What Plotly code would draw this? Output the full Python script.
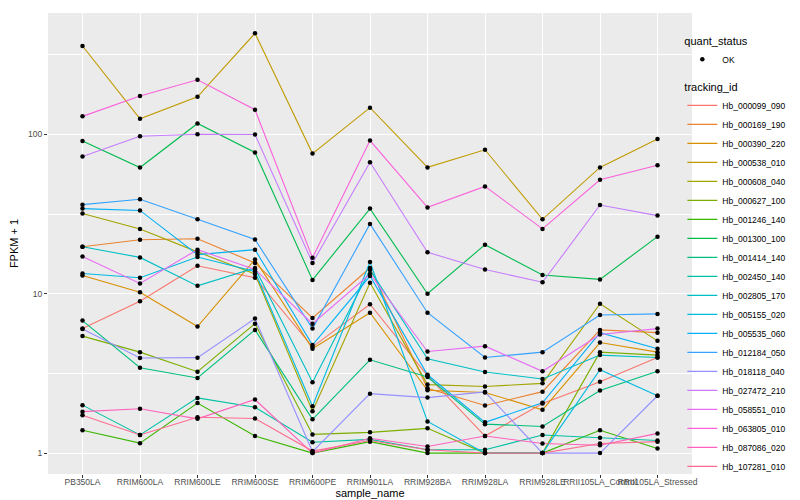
import plotly.graph_objects as go

samples = ["PB350LA", "RRIM600LA", "RRIM600LE", "RRIM600SE", "RRIM600PE", "RRIM901LA",
           "RRIM928BA", "RRIM928LA", "RRIM928LE", "RRII105LA_Control", "RRII105LA_Stressed"]

tracking_ids = ["Hb_000099_090", "Hb_000169_190", "Hb_000390_220", "Hb_000538_010",
                "Hb_000608_040", "Hb_000627_100", "Hb_001246_140", "Hb_001300_100",
                "Hb_001414_140", "Hb_002450_140", "Hb_002805_170", "Hb_005155_020",
                "Hb_005535_060", "Hb_012184_050", "Hb_018118_040", "Hb_027472_210",
                "Hb_058551_010", "Hb_063805_010", "Hb_087086_020", "Hb_107281_010"]

colors = ["#F8766D", "#EA8331", "#D89000", "#C09B00", "#A3A500", "#7CAE00", "#39B600",
          "#00BB4E", "#00BF7D", "#00C1A3", "#00BFC4", "#00BAE0", "#00B0F6", "#35A2FF",
          "#9590FF", "#C77CFF", "#E76BF3", "#FA62DB", "#FF62BC", "#FF6C91"]

# FPKM + 1 per tracking id, in sample order
hb_000099_090 = [6.04, 8.96, 14.96, 12.6, 4.64, 8.59, 3.06, 1.28, 2.05, 2.8, 3.98]
hb_000169_190 = [19.7, 21.8, 22.1, 15.6, 7.05, 14.5, 2.55, 1.99, 2.43, 5.93, 5.7]
hb_000390_220 = [13.0, 10.2, 6.22, 16.4, 4.52, 7.6, 2.48, 2.4, 1.87, 4.94, 4.3]
hb_000538_010 = [358, 125, 172, 430, 75.7, 147, 62, 80, 29.3, 62, 93.6]
hb_000608_040 = [31.9, 25.5, 18.3, 13.3, 1.83, 11.7, 2.69, 2.62, 2.74, 8.66, 5.06]
hb_000627_100 = [5.42, 4.3, 3.24, 6.49, 1.31, 1.35, 1.43, 1.0, 1.0, 4.3, 4.12]
hb_001246_140 = [1.39, 1.155, 2.06, 1.28, 1.0, 1.18, 1.0, 1.0, 1.0, 1.39, 1.07]
hb_001300_100 = [90.9, 61.9, 117, 76.9, 12.2, 34.2, 10.0, 20.3, 13.1, 12.3, 22.8]
hb_001414_140 = [6.78, 3.43, 2.96, 5.93, 1.63, 3.85, 3.0, 1.52, 1.47, 2.47, 3.26]
hb_002450_140 = [2.0, 1.3, 2.22, 1.94, 1.17, 1.22, 1.05, 1.05, 1.3, 1.25, 1.2]
hb_002805_170 = [19.7, 16.9, 11.2, 14.5, 2.78, 14.1, 3.91, 3.23, 2.92, 4.12, 3.98]
hb_005155_020 = [13.4, 12.6, 17.0, 13.8, 1.97, 15.8, 1.58, 1.0, 1.0, 3.34, 2.29]
hb_005535_060 = [34.2, 33.3, 17.6, 18.9, 4.76, 12.9, 3.1, 1.56, 2.07, 5.7, 4.51]
hb_012184_050 = [36.2, 39.1, 29.3, 21.9, 6.04, 27.4, 7.6, 3.98, 4.3, 7.36, 7.47]
hb_018118_040 = [6.0, 3.95, 3.97, 6.98, 1.02, 2.36, 2.23, 2.42, 1.0, 1.0, 2.29]
hb_027472_210 = [72.6, 97.2, 100, 99.8, 15.6, 66.8, 18.2, 14.2, 11.8, 36, 30.9]
hb_058551_010 = [17.1, 11.6, 18.9, 14.2, 6.49, 13.3, 4.34, 4.69, 3.26, 5.55, 6.04]
hb_063805_010 = [129.6, 174, 220, 142.6, 16.8, 91.4, 34.8, 47.1, 25.5, 51.9, 64]
hb_087086_020 = [1.82, 1.9, 1.64, 2.17, 1.0, 1.24, 1.1, 1.28, 1.15, 1.12, 1.33]
hb_107281_010 = [1.73, 1.3, 1.68, 1.65, 1.03, 1.2, 1.05, 1.0, 1.0, 1.15, 1.18]

series = [hb_000099_090, hb_000169_190, hb_000390_220, hb_000538_010, hb_000608_040,
          hb_000627_100, hb_001246_140, hb_001300_100, hb_001414_140, hb_002450_140,
          hb_002805_170, hb_005155_020, hb_005535_060, hb_012184_050, hb_018118_040,
          hb_027472_210, hb_058551_010, hb_063805_010, hb_087086_020, hb_107281_010]

y_ticks = [1, 10, 100]
y_minor = [10 ** 0.5, 10 ** 1.5, 10 ** 2.5]

FONT = "Liberation Sans, Arial, sans-serif"

fig = go.Figure()
for tid, col, vals in zip(tracking_ids, colors, series):
    fig.add_trace(go.Scatter(
        x=samples, y=vals, mode="lines", name=tid,
        line=dict(color=col, width=1.1),
        legend="legend2", hoverinfo="x+y+name",
    ))

all_x = [s for _ in series for s in samples]
all_y = [v for vals in series for v in vals]
fig.add_trace(go.Scatter(
    x=all_x, y=all_y, mode="markers", name="OK",
    marker=dict(color="black", size=4.5, symbol="circle"),
    legend="legend",
))

fig.update_layout(
    width=800, height=500,
    paper_bgcolor="white", plot_bgcolor="#EBEBEB",
    margin=dict(l=40, r=116, t=5, b=34),
    font=dict(family=FONT, size=11, color="black"),
    showlegend=True,
    legend=dict(
        title=dict(text="quant_status", font=dict(size=11, color="black")),
        x=0.985, xanchor="left", y=0.962, yanchor="top",
        font=dict(size=8.5, color="black"), bgcolor="rgba(0,0,0,0)",
        itemwidth=30,
    ),
    legend2=dict(
        title=dict(text="tracking_id", font=dict(size=11, color="black")),
        x=0.985, xanchor="left", y=0.862, yanchor="top",
        font=dict(size=8.5, color="black"), bgcolor="rgba(0,0,0,0)",
        itemwidth=30,
    ),
    xaxis=dict(
        type="category", categoryorder="array", categoryarray=samples,
        range=[-0.6, len(samples) - 0.4],
        showgrid=True, gridcolor="white", gridwidth=1.1,
        ticks="outside", ticklen=3, tickcolor="#333333", tickwidth=1,
        tickangle=0, ticklabelstandoff=-3,
        tickfont=dict(size=8.5, color="#4D4D4D", family=FONT),
        title=dict(text="sample_name", font=dict(size=11, color="black"), standoff=0),
        zeroline=False, showline=False, fixedrange=True, automargin=False,
    ),
    yaxis=dict(
        type="log", range=[-0.131, 2.761],
        tickmode="array", tickvals=y_ticks, ticktext=[str(t) for t in y_ticks],
        showgrid=True, gridcolor="white", gridwidth=1.1,
        minor=dict(tickmode="array", tickvals=y_minor, showgrid=True,
                   gridcolor="white", gridwidth=0.5, ticks=""),
        ticks="outside", ticklen=3, tickcolor="#333333", tickwidth=1,
        tickfont=dict(size=8.5, color="#4D4D4D", family=FONT),
        title=dict(text="FPKM + 1", font=dict(size=11, color="black"), standoff=8),
        zeroline=False, showline=False, fixedrange=True, automargin=False,
    ),
)

fig.write_html("out.html")
